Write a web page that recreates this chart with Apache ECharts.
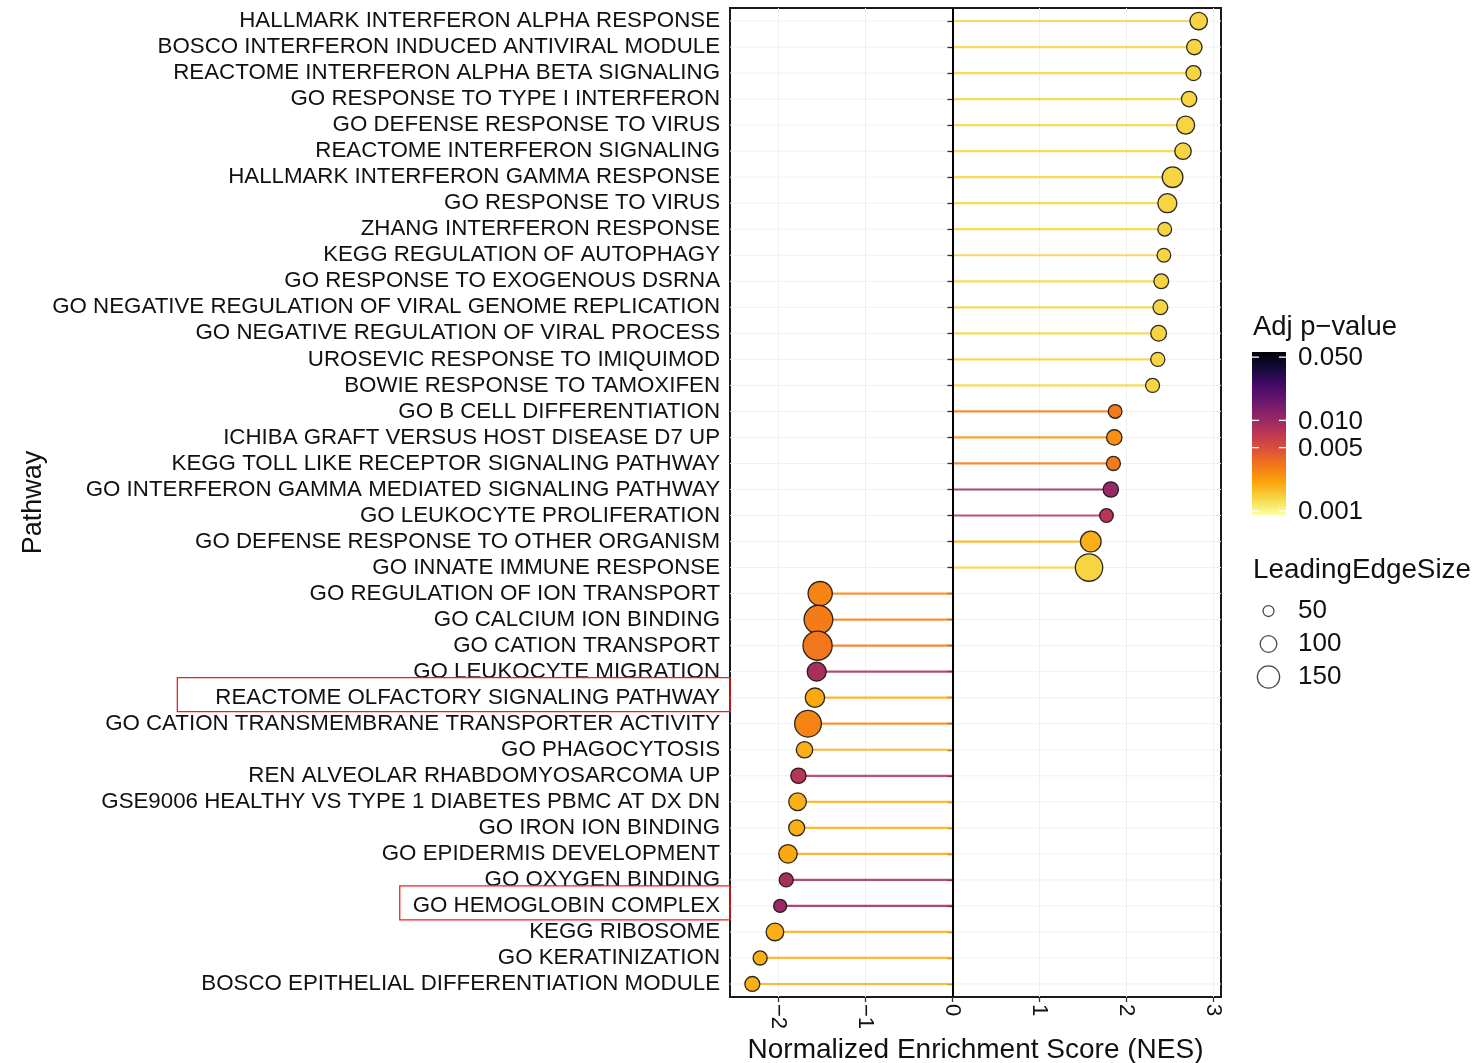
<!DOCTYPE html>
<html>
<head>
<meta charset="utf-8">
<title>GSEA pathway enrichment</title>
<script src="https://cdn.jsdelivr.net/npm/echarts@6/dist/echarts.min.js"></script>
<style>
  html, body { margin: 0; padding: 0; background: #ffffff; }
  #chart { width: 1476px; height: 1063px; }
</style>
</head>
<body>
<div id="chart"></div>
<script>
// ---- data -------------------------------------------------------------
const pathways = [
  'HALLMARK INTERFERON ALPHA RESPONSE',
  'BOSCO INTERFERON INDUCED ANTIVIRAL MODULE',
  'REACTOME INTERFERON ALPHA BETA SIGNALING',
  'GO RESPONSE TO TYPE I INTERFERON',
  'GO DEFENSE RESPONSE TO VIRUS',
  'REACTOME INTERFERON SIGNALING',
  'HALLMARK INTERFERON GAMMA RESPONSE',
  'GO RESPONSE TO VIRUS',
  'ZHANG INTERFERON RESPONSE',
  'KEGG REGULATION OF AUTOPHAGY',
  'GO RESPONSE TO EXOGENOUS DSRNA',
  'GO NEGATIVE REGULATION OF VIRAL GENOME REPLICATION',
  'GO NEGATIVE REGULATION OF VIRAL PROCESS',
  'UROSEVIC RESPONSE TO IMIQUIMOD',
  'BOWIE RESPONSE TO TAMOXIFEN',
  'GO B CELL DIFFERENTIATION',
  'ICHIBA GRAFT VERSUS HOST DISEASE D7 UP',
  'KEGG TOLL LIKE RECEPTOR SIGNALING PATHWAY',
  'GO INTERFERON GAMMA MEDIATED SIGNALING PATHWAY',
  'GO LEUKOCYTE PROLIFERATION',
  'GO DEFENSE RESPONSE TO OTHER ORGANISM',
  'GO INNATE IMMUNE RESPONSE',
  'GO REGULATION OF ION TRANSPORT',
  'GO CALCIUM ION BINDING',
  'GO CATION TRANSPORT',
  'GO LEUKOCYTE MIGRATION',
  'REACTOME OLFACTORY SIGNALING PATHWAY',
  'GO CATION TRANSMEMBRANE TRANSPORTER ACTIVITY',
  'GO PHAGOCYTOSIS',
  'REN ALVEOLAR RHABDOMYOSARCOMA UP',
  'GSE9006 HEALTHY VS TYPE 1 DIABETES PBMC AT DX DN',
  'GO IRON ION BINDING',
  'GO EPIDERMIS DEVELOPMENT',
  'GO OXYGEN BINDING',
  'GO HEMOGLOBIN COMPLEX',
  'KEGG RIBOSOME',
  'GO KERATINIZATION',
  'BOSCO EPITHELIAL DIFFERENTIATION MODULE'
];

// normalized enrichment score
const nes = [
  2.83, 2.78, 2.77, 2.72, 2.68, 2.65, 2.53, 2.47, 2.44, 2.43,
  2.40, 2.39, 2.37, 2.36, 2.30, 1.87, 1.86, 1.85, 1.82, 1.77,
  1.59, 1.57, -1.52, -1.54, -1.55, -1.56, -1.58, -1.66, -1.70, -1.77,
  -1.78, -1.79, -1.89, -1.91, -1.98, -2.04, -2.21, -2.30
];

// adjusted p-value
const adjP = [
  0.0014, 0.0014, 0.0014, 0.0014, 0.0014, 0.0014, 0.0014, 0.0014, 0.0014, 0.0014,
  0.0014, 0.0014, 0.0014, 0.0014, 0.0014, 0.0031, 0.0025, 0.0031, 0.0104, 0.0075,
  0.0019, 0.0014, 0.0028, 0.0030, 0.0032, 0.0088, 0.0020, 0.0028, 0.0019, 0.0075,
  0.0019, 0.0019, 0.0020, 0.0088, 0.0100, 0.0019, 0.0019, 0.0019
];

// number of genes in the leading edge
const leadingEdge = [
  110, 92, 88, 92, 115, 101, 139, 124, 77, 77,
  86, 86, 95, 81, 80, 77, 92, 80, 92, 77,
  139, 198, 170, 210, 214, 124, 127, 192, 101, 92,
  112, 97, 119, 80, 71, 112, 80, 88
];

const xTicks = [-2, -1, 0, 1, 2, 3];
const pBreaks = [0.05, 0.01, 0.005, 0.001];
const pLimits = [0.0009, 0.057];
const sizeBreaks = [50, 100, 150];
const highlighted = ['REACTOME OLFACTORY SIGNALING PATHWAY', 'GO HEMOGLOBIN COMPLEX'];

// ---- styling ----------------------------------------------------------
const FONT = '"Liberation Sans", Arial, Helvetica, sans-serif';
const INK = '#111111';
const GRIDLINE = '#f0f0f0';
const INFERNO = ['#000004', '#160b39', '#420a68', '#6a176e', '#932667', '#bc3754',
                 '#dd513a', '#f37819', '#fca50a', '#f6d746', '#fcffa4'];
const boxLeftPad = [38, 13];

// point diameter (px) for a leading-edge size
function dotDiameter(s) { return 6.3 + 0.113 * s; }
function fmtTick(v) { return v < 0 ? '\u2212' + Math.abs(v) : String(v); }

const lo = Math.min(0, ...nes), hi = Math.max(0, ...nes);
const pad = (hi - lo) * 0.05;
const logMin = Math.log10(pLimits[0]), logMax = Math.log10(pLimits[1]);

const rows = pathways.map((name, i) => [nes[i], name, Math.log10(adjP[i]), leadingEdge[i]]);

const GRID = { left: 730, right: 255, top: 8, bottom: 66 };

const chart = echarts.init(document.getElementById('chart'), null, { renderer: 'canvas' });

const option = {
  animation: false,
  backgroundColor: '#ffffff',
  grid: Object.assign({ show: true, borderColor: '#1a1a1a', borderWidth: 2,
                        backgroundColor: '#ffffff', containLabel: false,
                        outerBoundsMode: 'none' }, GRID),
  xAxis: {
    type: 'value',
    min: lo - pad,
    max: hi + pad,
    axisLine: { show: false },
    axisTick: { show: true, customValues: xTicks, length: 5,
                lineStyle: { color: '#333333', width: 1.3 } },
    axisLabel: { customValues: xTicks, rotate: -90, margin: 7, fontSize: 22,
                 fontFamily: FONT, color: INK, formatter: fmtTick },
    splitLine: { show: true, lineStyle: { color: GRIDLINE, width: 1 } },
    name: 'Normalized Enrichment Score (NES)',
    nameLocation: 'middle',
    nameGap: 39,
    nameMoveOverlap: false,
    nameTextStyle: { fontSize: 28, fontFamily: FONT, color: INK }
  },
  yAxis: {
    type: 'category',
    data: pathways,
    inverse: true,
    axisLine: { show: false },
    axisTick: { show: true, alignWithLabel: true, length: 5,
                lineStyle: { color: '#333333', width: 1.3 } },
    axisLabel: { interval: 0, margin: 10, fontSize: 22.3, fontFamily: FONT, color: INK },
    splitLine: { show: false },
    name: 'Pathway',
    nameLocation: 'middle',
    nameRotate: 90,
    nameGap: 683,
    nameMoveOverlap: false,
    nameTextStyle: { fontSize: 27, fontFamily: FONT, color: INK }
  },
  visualMap: {
    show: false,
    type: 'continuous',
    seriesIndex: [1, 2],
    dimension: 2,
    min: logMin,
    max: logMax,
    inRange: { color: INFERNO.slice().reverse() }
  },
  series: [
    {
      // faint guide line through every pathway, plus the zero reference
      type: 'custom',
      data: pathways.map(p => [p]),
      encode: { y: 0 },
      silent: true,
      z: 0,
      renderItem: (params, api) => {
        const cs = params.coordSys;
        const y = api.coord([0, api.value(0)])[1];
        return { type: 'line', shape: { x1: cs.x, y1: y, x2: cs.x + cs.width, y2: y },
                 style: { stroke: GRIDLINE, lineWidth: 1 } };
      },
      markLine: {
        silent: true,
        symbol: ['none', 'none'],
        label: { show: false },
        animation: false,
        data: [{ xAxis: 0, lineStyle: { color: '#000000', width: 2, type: 'solid' } }]
      }
    },
    {
      // stems from zero to the score
      type: 'bar',
      data: rows,
      encode: { x: 0, y: 1 },
      barWidth: 2.2,
      silent: true,
      z: 2,
      itemStyle: { opacity: 0.85 }
    },
    {
      type: 'scatter',
      data: rows,
      encode: { x: 0, y: 1 },
      symbol: 'circle',
      symbolSize: v => dotDiameter(v[3]) - 1.3,
      silent: true,
      z: 3,
      itemStyle: { borderColor: 'rgba(20,20,20,0.9)', borderWidth: 1.3, opacity: 1 }
    }
  ]
};

chart.setOption(option);

// ---- legends and label highlights -------------------------------------
function buildGraphics() {
  const els = [];
  const lx = 1253, labelX = 1298;

  // colour bar for the adjusted p-value
  const barX = 1252, barTop = 352, barW = 34, barH = 163;
  const yOfP = p => barTop + (logMax - Math.log10(p)) / (logMax - logMin) * barH;
  els.push({ type: 'text', x: lx, y: 327, style: { text: 'Adj p\u2212value', fontSize: 27.4,
             fontFamily: FONT, fill: INK, align: 'left', verticalAlign: 'middle' } });
  els.push({ type: 'rect', shape: { x: barX, y: barTop, width: barW, height: barH },
             style: { fill: new echarts.graphic.LinearGradient(0, 0, 0, 1,
               INFERNO.map((c, i) => ({ offset: i / (INFERNO.length - 1), color: c }))) } });
  pBreaks.forEach(p => {
    const y = yOfP(p);
    els.push({ type: 'line', shape: { x1: barX, y1: y, x2: barX + 7, y2: y },
               style: { stroke: '#ffffff', lineWidth: 1.3 } });
    els.push({ type: 'line', shape: { x1: barX + barW - 7, y1: y, x2: barX + barW, y2: y },
               style: { stroke: '#ffffff', lineWidth: 1.3 } });
    els.push({ type: 'text', x: labelX, y: y + 1, style: { text: p.toFixed(3), fontSize: 26,
               fontFamily: FONT, fill: INK, align: 'left', verticalAlign: 'middle' } });
  });

  // point-size key
  els.push({ type: 'text', x: lx, y: 570, style: { text: 'LeadingEdgeSize', fontSize: 27.8,
             fontFamily: FONT, fill: INK, align: 'left', verticalAlign: 'middle' } });
  sizeBreaks.forEach((s, i) => {
    const cy = 611 + i * 33;
    els.push({ type: 'circle', shape: { cx: 1268.5, cy: cy, r: dotDiameter(s) / 2 - 0.5 },
               style: { fill: 'none', stroke: '#4a4a4a', lineWidth: 1.3 } });
    els.push({ type: 'text', x: labelX, y: cy, style: { text: String(s), fontSize: 26,
               fontFamily: FONT, fill: INK, align: 'left', verticalAlign: 'middle' } });
  });

  // red boxes around selected pathway labels
  const ctx = document.createElement('canvas').getContext('2d');
  ctx.font = '22.3px ' + FONT;
  highlighted.forEach((name, i) => {
    const cy = chart.convertToPixel({ yAxisIndex: 0 }, name);
    const w = ctx.measureText(name).width;
    const left = GRID.left - 10 - w - boxLeftPad[i];
    els.push({ type: 'rect', z: 100,
               shape: { x: left, y: cy - 20, width: GRID.left - left, height: 34 },
               style: { fill: 'none', stroke: '#ff1a1a', lineWidth: 1.3 } });
  });
  return els;
}

chart.setOption({ graphic: buildGraphics() });
</script>
</body>
</html>
